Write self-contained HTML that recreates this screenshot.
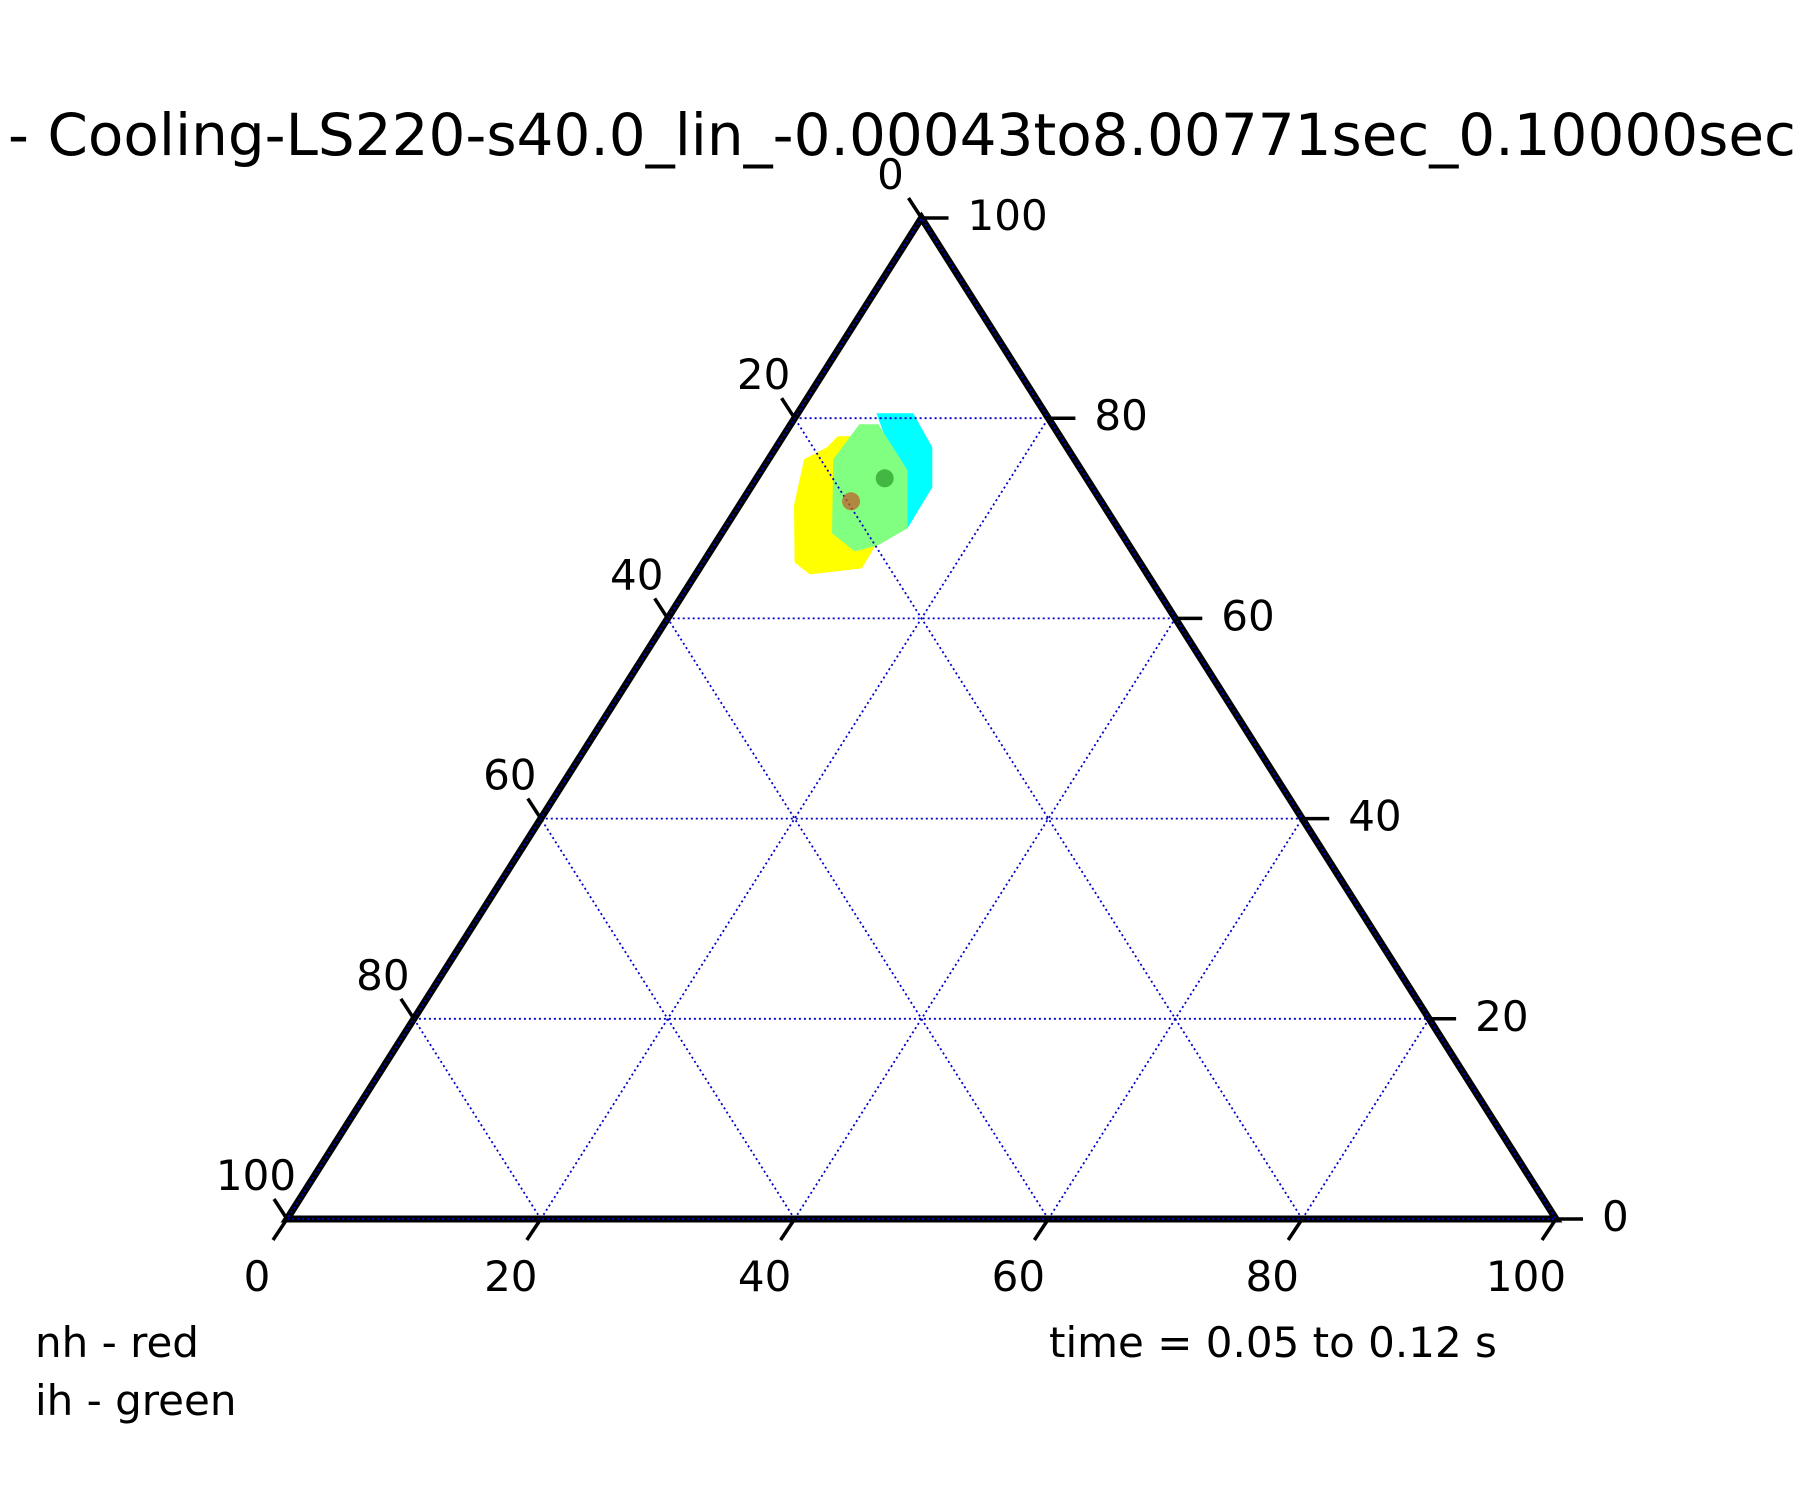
<!DOCTYPE html>
<html><head><meta charset="utf-8"><style>
html,body{margin:0;padding:0;background:#fff;}
svg{display:block;font-family:"DejaVu Sans","Liberation Sans",sans-serif;}
</style></head><body>
<svg id="chart" width="1800" height="1500" viewBox="0 0 1800 1500" xmlns="http://www.w3.org/2000/svg">
<text x="8" y="155" font-size="58">- Cooling-LS220-s40.0_lin_-0.00043to8.00771sec_0.10000sec</text>
<g id="hex"></g>
<g id="grid"></g>
<g id="axes"></g>
<g id="pts"></g>
<text x="35" y="1357" font-size="42">nh - red</text>
<text x="35" y="1415" font-size="42">ih - green</text>
<text x="1049" y="1357" font-size="42">time = 0.05 to 0.12 s</text>
</svg>
<script>
const ticks=[0,20,40,60,80,100];
const gridVals=[20,40,60,80];
// regions as [bottom, right] ternary coordinates
const cyanRegion=[[6.2,80.5],[9.1,80.5],[12.3,77.1],[14.3,73.1],[14.4,69.0],[13.7,68.5],[8.0,78.2]];
const yellowRegion=[[4.3,78.2],[5.7,78.2],[12.7,67.9],[12.8,65.0],[9.0,64.4],[7.2,65.6],[4.3,71.3],[2.8,75.9],[4.0,77.1]];
const greenRegion=[[5.4,79.4],[6.9,79.4],[11.5,74.8],[14.4,69.0],[12.9,67.3],[11.4,66.7],[8.7,68.5],[5.1,75.9]];
const nhPoint=[8.6,71.7];
const ihPoint=[10.1,74.0];

const BLx=287,BLy=1219,W=1269,H=1001;
const NS='http://www.w3.org/2000/svg';
function P(b,r){return [BLx+b/100*W+r/100*W/2, BLy-r/100*H];}
function el(tag,attrs,parent){const e=document.createElementNS(NS,tag);for(const k in attrs)e.setAttribute(k,attrs[k]);parent.appendChild(e);return e;}
const hex=document.getElementById('hex'),grid=document.getElementById('grid'),axes=document.getElementById('axes'),pts=document.getElementById('pts');
function poly(arr,color,name){
  const e=el('polygon',{points:arr.map(p=>P(p[0],p[1]).join(',')).join(' '),fill:color},hex);
  
  
}
poly(cyanRegion,'#00ffff','cyan-region');
poly(yellowRegion,'#ffff00','yellow-region');
poly(greenRegion,'#80ff80','green-region');
gridVals.forEach(v=>{
  let a=P(0,v),b=P(100-v,v);
  let l=el('line',{x1:a[0],y1:a[1],x2:b[0],y2:b[1],stroke:'#0000cc','stroke-width':1.8,'stroke-dasharray':'2,3'},grid);
  
  
  a=P(v,0);b=P(v,100-v);
  l=el('line',{x1:a[0],y1:a[1],x2:b[0],y2:b[1],stroke:'#0000cc','stroke-width':1.8,'stroke-dasharray':'2,3'},grid);
  
  
  a=P(v,0);b=P(0,v);
  l=el('line',{x1:a[0],y1:a[1],x2:b[0],y2:b[1],stroke:'#0000cc','stroke-width':1.8,'stroke-dasharray':'2,3'},grid);
  
  
});
const A=P(0,0),B=P(100,0),C=P(0,100);
const tri=el('polygon',{points:[A,B,C].map(p=>p.join(',')).join(' '),fill:'none',stroke:'#000','stroke-width':7},axes);


const tri2=el('polygon',{points:[A,B,C].map(p=>p.join(',')).join(' '),fill:'none',stroke:'#0000cc','stroke-width':1.8,'stroke-dasharray':'2,3'},axes);


ticks.forEach(v=>{
  let p=P(v,0);
  let t=el('line',{x1:p[0],y1:p[1],x2:p[0]-14,y2:p[1]+21,stroke:'#000','stroke-width':3.5},axes);
  
  
  let tx=el('text',{x:p[0]-30,y:p[1]+72,'font-size':42,'text-anchor':'middle'},axes);tx.textContent=v;
  
  
  p=P(0,100-v);
  t=el('line',{x1:p[0],y1:p[1],x2:p[0]-13,y2:p[1]-20,stroke:'#000','stroke-width':3.5},axes);
  
  
  tx=el('text',{x:p[0]-31,y:p[1]-29,'font-size':42,'text-anchor':'middle'},axes);tx.textContent=v;
  
  
  p=P(100-v,v);
  t=el('line',{x1:p[0],y1:p[1],x2:p[0]+27,y2:p[1],stroke:'#000','stroke-width':3.5},axes);
  
  
  tx=el('text',{x:p[0]+46,y:p[1]+12,'font-size':42},axes);tx.textContent=v;
  
  
});
function dot(pt,color,name){
  const p=P(pt[0],pt[1]);
  const c=el('circle',{cx:p[0],cy:p[1],r:9,fill:color,'fill-opacity':0.75},pts);
  
  
}
dot(nhPoint,'#c0602a','nh-mean-point');
dot(ihPoint,'#2ea02e','ih-mean-point');
</script>
</body></html>
